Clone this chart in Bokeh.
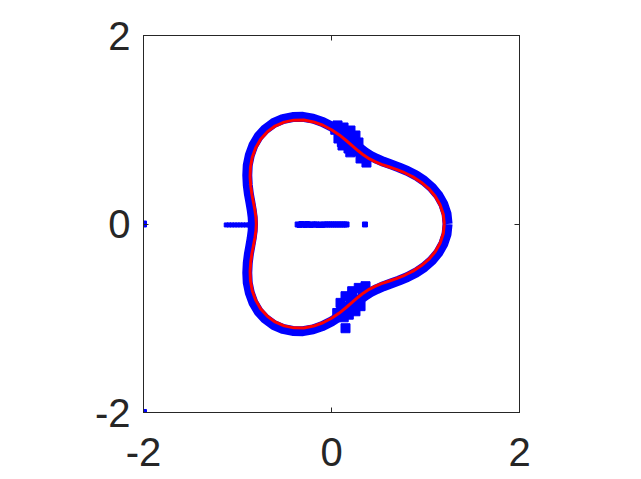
from bokeh.plotting import figure
from bokeh.models import LinearAxis, FixedTicker, Range1d
from bokeh.embed import file_html
from bokeh.resources import INLINE

# Red curve, upper half (angle 0..180 deg in 5 deg steps); lower half is its mirror
red_x_up = [1.200, 1.189, 1.155, 1.103, 1.034, 0.953, 0.866, 0.777, 0.689, 0.607,
            0.531, 0.463, 0.400, 0.341, 0.283, 0.222, 0.156, 0.083, 0.000, -0.092,
            -0.191, -0.295, -0.401, -0.504, -0.600, -0.684, -0.754, -0.807, -0.843,
            -0.862, -0.866, -0.859, -0.846, -0.829, -0.814, -0.804, -0.800]
red_y_up = [0.000, 0.104, 0.204, 0.295, 0.376, 0.444, 0.500, 0.544, 0.579, 0.607,
            0.633, 0.661, 0.693, 0.731, 0.777, 0.829, 0.886, 0.945, 1.000, 1.048,
            1.083, 1.103, 1.102, 1.081, 1.039, 0.977, 0.899, 0.807, 0.707,
            0.603, 0.500, 0.401, 0.308, 0.222, 0.144, 0.070, 0.000]

# Blue band of points along the curve (upper half, 5 deg steps)
band_x_up = [1.235, 1.224, 1.190, 1.137, 1.067, 0.985, 0.896, 0.806, 0.716, 0.632,
             0.554, 0.483, 0.418, 0.356, 0.295, 0.231, 0.162, 0.086, 0.000, -0.095,
             -0.197, -0.304, -0.413, -0.519, -0.618, -0.704, -0.777, -0.832, -0.869,
             -0.891, -0.896, -0.891, -0.879, -0.863, -0.849, -0.839, -0.835]
band_y_up = [0.000, 0.107, 0.210, 0.304, 0.388, 0.459, 0.518, 0.564, 0.601, 0.632,
             0.660, 0.690, 0.723, 0.763, 0.810, 0.863, 0.921, 0.980, 1.035, 1.083,
             1.118, 1.137, 1.135, 1.113, 1.070, 1.006, 0.926, 0.832, 0.730,
             0.623, 0.518, 0.416, 0.320, 0.231, 0.150, 0.073, 0.000]

# Extra blue points (clusters)
upper_blob_x = [0.064, 0.128, 0.202, 0.255, 0.287, 0.255, 0.181, 0.117, 0.074, 0.149,
                0.223, 0.330, 0.372, 0.309, 0.096, 0.180, 0.230, 0.110, 0.160, 0.040,
                0.270, 0.200, 0.130]
upper_blob_y = [1.046, 1.024, 0.992, 0.939, 0.865, 0.812, 0.801, 0.833, 0.907, 0.907,
                0.865, 0.727, 0.652, 0.695, 0.971, 0.950, 0.910, 0.870, 0.840, 1.000,
                0.770, 0.760, 0.950]
lower_blob_x = [0.362, 0.290, 0.220, 0.149, 0.096, 0.114, 0.184, 0.255, 0.309, 0.255,
                0.202, 0.078, 0.061, 0.149, 0.150, 0.220, 0.130, 0.330]
lower_blob_y = [-0.660, -0.678, -0.713, -0.766, -0.837, -0.926, -0.962, -0.926, -0.872,
                -0.802, -0.837, -0.979, -0.944, -1.106, -0.880, -0.760, -0.990, -0.700]
center_x = [-0.36, -0.34, -0.32, -0.30, -0.28, -0.26, -0.24, -0.22, -0.20, -0.18, -0.16,
            -0.14, -0.12, -0.10, -0.08, -0.06, -0.04, -0.02, 0.00, 0.02, 0.04, 0.06,
            0.08, 0.10, 0.12, 0.14, 0.16, 0.356]
center_y = [-0.005, -0.01, 0.0, -0.005, -0.01, 0.0, -0.005, -0.01, -0.005, -0.005, -0.005,
            -0.01, -0.005, -0.01, -0.005, -0.005, -0.005, -0.005, -0.005, -0.005, -0.005,
            -0.005, -0.005, -0.005, -0.005, -0.005, -0.005, -0.005]
left_x = [-1.12, -1.09, -1.06, -1.03, -1.00, -0.97, -0.94, -0.91, -0.88, -0.85, -0.83]
left_y = [-0.01, -0.01, -0.01, -0.01, -0.01, -0.01, -0.01, -0.01, -0.01, -0.01, -0.01]
edge_x = [-2.0, -2.0]
edge_y = [0.0, -2.0]

ticks = [-2, 0, 2]
tick_labels = {-2: "-2", 0: "0", 2: "2"}

red_x = red_x_up + red_x_up[-2::-1]
red_y = red_y_up + [-v for v in red_y_up[-2::-1]]
band_x = band_x_up + band_x_up[-2::-1]
band_y = band_y_up + [-v for v in band_y_up[-2::-1]]

AX = "#262626"
FONT = "Liberation Sans"

p = figure(frame_width=376, frame_height=377,
           x_range=Range1d(-2, 2), y_range=Range1d(-2, 2),
           output_backend="svg", toolbar_location=None,
           min_border_left=143, min_border_top=35,
           min_border_right=114, min_border_bottom=62,
           x_axis_location=None, y_axis_location=None)
p.grid.visible = False
p.outline_line_color = AX
p.outline_line_width = 1
p.background_fill_color = "white"
p.border_fill_color = "white"

def make_axis(show_labels):
    ax = LinearAxis(ticker=FixedTicker(ticks=ticks))
    ax.major_label_overrides = tick_labels
    ax.axis_line_color = AX
    ax.axis_line_width = 1
    ax.major_tick_line_color = AX
    ax.major_tick_in = 5
    ax.major_tick_out = 0
    ax.minor_tick_line_color = None
    if show_labels:
        ax.major_label_text_font = FONT
        ax.major_label_text_font_size = "40px"
        ax.major_label_text_color = AX
    else:
        ax.major_label_text_font_size = "0px"
        ax.major_label_text_color = None
    return ax

bx = make_axis(True)
bx.major_label_standoff = 25
p.add_layout(bx, "below")
ly = make_axis(True)
ly.major_label_standoff = 13
p.add_layout(ly, "left")
p.add_layout(make_axis(False), "above")
p.add_layout(make_axis(False), "right")

BLUE = "#0000FF"
p.line(band_x, band_y, line_color=BLUE, line_width=10, line_join="round")
p.scatter(upper_blob_x, upper_blob_y, marker="square", size=9,
          fill_color=BLUE, line_color=BLUE)
p.scatter(lower_blob_x, lower_blob_y, marker="square", size=9,
          fill_color=BLUE, line_color=BLUE)
p.scatter(center_x, center_y, marker="square", size=5,
          fill_color=BLUE, line_color=BLUE)
p.scatter(left_x, left_y, marker="square", size=4,
          fill_color=BLUE, line_color=BLUE)
p.scatter(edge_x, edge_y, marker="square", size=6,
          fill_color=BLUE, line_color=BLUE)
p.line(red_x, red_y, line_color="#FF0000", line_width=3, line_join="round")

open("out.html", "w").write(file_html(p, INLINE))
